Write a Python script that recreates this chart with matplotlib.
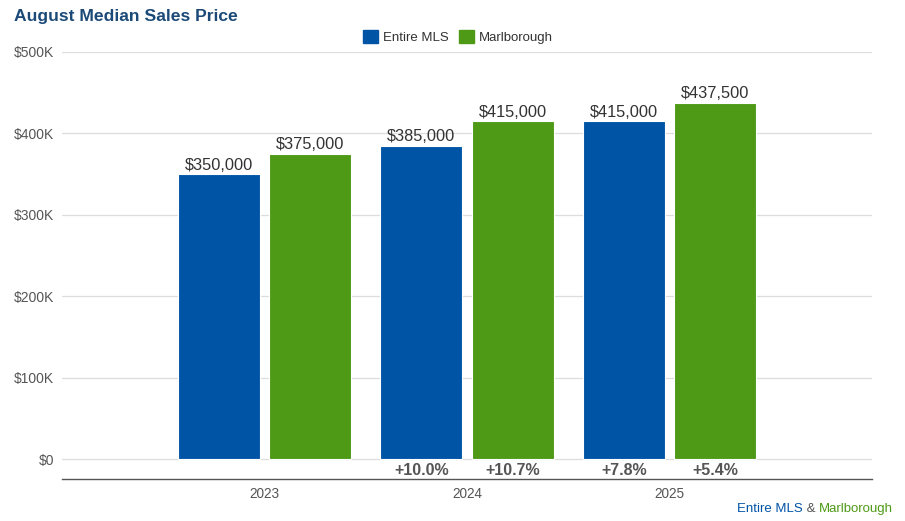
import matplotlib
matplotlib.use("Agg")
import matplotlib.pyplot as plt
import numpy as np
from matplotlib.ticker import FuncFormatter

plt.rcParams["font.family"] = ["Liberation Sans", "DejaVu Sans"]

years = ["2023", "2024", "2025"]
entire_mls = [350000, 385000, 415000]
marlborough = [375000, 415000, 437500]
mls_change = [None, "+10.0%", "+7.8%"]
marl_change = [None, "+10.7%", "+5.4%"]

BLUE = "#0054a6"
GREEN = "#4e9a17"
TITLE = "#1c4a78"
GRID = "#dddddd"
TEXT = "#555555"

W, H = 905, 521
fig = plt.figure(figsize=(W / 100, H / 100), dpi=100)
ax = fig.add_axes([62 / W, (H - 479) / H, (872 - 62) / W, (479 - 52) / H])

x = np.arange(1, len(years) + 1)
bw = 0.405
off = 0.225
b1 = ax.bar(x - off, entire_mls, bw, color=BLUE, edgecolor="white", linewidth=0.8, zorder=3)
b2 = ax.bar(x + off, marlborough, bw, color=GREEN, edgecolor="white", linewidth=0.8, zorder=3)

for bars, vals in ((b1, entire_mls), (b2, marlborough)):
    for r, v in zip(bars, vals):
        ax.annotate(f"${v:,.0f}", (r.get_x() + r.get_width() / 2, v),
                    xytext=(0, 1), textcoords="offset points",
                    ha="center", va="bottom", fontsize=11.8, color="#333333")

for bars, chg in ((b1, mls_change), (b2, marl_change)):
    for r, c in zip(bars, chg):
        if c:
            ax.annotate(c, (r.get_x() + r.get_width() / 2, 0),
                        xytext=(0, -8.5), textcoords="offset points",
                        ha="center", va="center", fontsize=11.5,
                        fontweight="bold", color=TEXT)

ymin = -100000 * (479 - 459) / 81.4
ax.set_ylim(ymin, 500000)
ax.set_xlim(0, 4)
ax.set_yticks(np.arange(0, 500001, 100000))
ax.yaxis.set_major_formatter(FuncFormatter(lambda v, p: "$0" if v == 0 else f"${v/1000:.0f}K"))
ax.set_xticks(x)
ax.set_xticklabels(years)
ax.grid(axis="y", color=GRID, linewidth=0.9, zorder=0)
for s in ("top", "right", "left"):
    ax.spines[s].set_visible(False)
ax.spines["bottom"].set_color("#555555")
ax.spines["bottom"].set_linewidth(1.0)
ax.tick_params(axis="y", length=0, pad=5.5, labelsize=10, labelcolor=TEXT)
ax.tick_params(axis="x", length=0, pad=6, labelsize=9.8, labelcolor=TEXT)

fig.text(14 / W, 1 - 17 / H, "August Median Sales Price", fontsize=12.6,
         fontweight="bold", color=TITLE, va="center", ha="left")

handles = [plt.Rectangle((0, 0), 1, 1, color=BLUE), plt.Rectangle((0, 0), 1, 1, color=GREEN)]
fig.legend(handles, ["Entire MLS", "Marlborough"], loc="center",
           bbox_to_anchor=(458 / W, 1 - 37 / H), ncol=2, frameon=False,
           fontsize=9.5, handlelength=1.1, handleheight=1.1, handletextpad=0.4,
           columnspacing=0.8, labelcolor="#333333")

ty = 1 - 509 / H
t1 = fig.text(893 / W, ty, "Marlborough", color=GREEN, fontsize=9.5, ha="right", va="center")
fig.canvas.draw()
bb = t1.get_window_extent()
t2 = fig.text(bb.x0 / W, ty, " & ", color=TEXT, fontsize=9.5, ha="right", va="center")
bb2 = t2.get_window_extent()
fig.text(bb2.x0 / W, ty, "Entire MLS", color=BLUE, fontsize=9.5, ha="right", va="center")

fig.savefig("out.png", dpi=100)
